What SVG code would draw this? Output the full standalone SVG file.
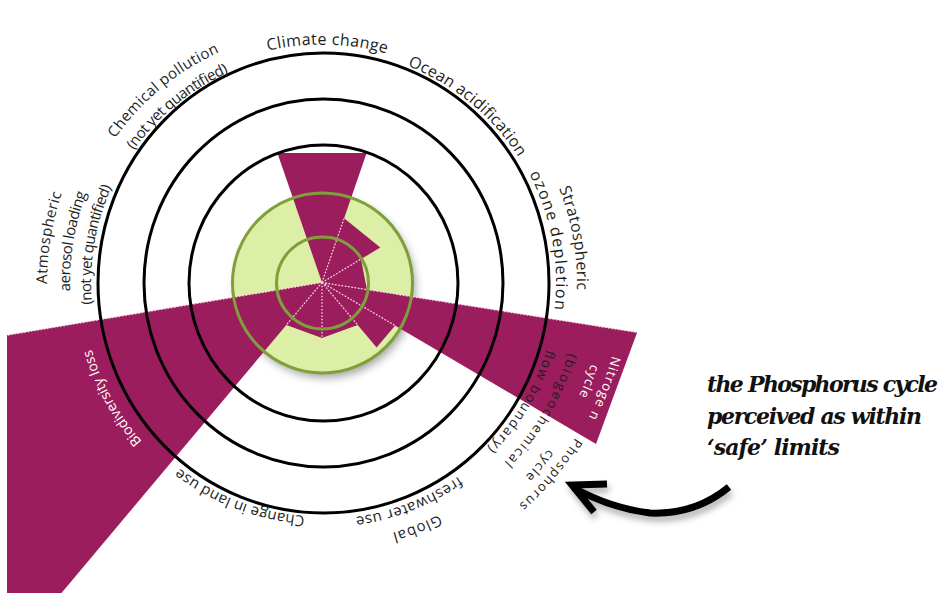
<svg xmlns="http://www.w3.org/2000/svg" width="947" height="593" viewBox="0 0 947 593">
<defs>
<style>
.wedge{fill:#9c1d5e}
.dot{stroke:#f6d8e8;stroke-width:1.3;stroke-dasharray:1.5 1.8;fill:none}
.ring{fill:none;stroke:#000;stroke-width:3}
.gring{fill:none;stroke:#7f9f3a;stroke-width:3}
.lbl{font-family:"Open Sans",Lato,sans-serif;fill:#1e1e1e}
.wl{font-family:"Open Sans",Lato,sans-serif;fill:#ffffff}
.note{font-family:"DejaVu Serif",serif;font-weight:bold;font-style:italic;font-size:22px;fill:#111}
.arrow{fill:none;stroke:#000;stroke-width:7}
</style>
<filter id="sh" x="-30%" y="-30%" width="160%" height="160%"><feDropShadow dx="3" dy="5" stdDeviation="4" flood-color="#000" flood-opacity="0.35"/></filter>
<filter id="sh2" x="-20%" y="-50%" width="140%" height="200%"><feDropShadow dx="2" dy="5" stdDeviation="3" flood-color="#000" flood-opacity="0.3"/></filter>
<path id="p1" d="M118.6 158.9 A238 238 0 0 1 530.7 168.2"/>
<path id="p2" d="M240.4 64.3 A233 233 0 0 1 551.8 320.9"/>
<path id="p3" d="M409.2 42.9 A255 255 0 0 1 485.9 477.8"/>
<path id="p4" d="M400.1 61.9 A234 234 0 0 1 474.0 460.4"/>
<path id="p5" d="M552.7 92.3 A299 299 0 0 1 371.3 577.4"/>
<path id="p6" d="M538.2 103.0 A281 281 0 0 1 369.3 559.5"/>
<path id="p7" d="M544.4 155.7 A256 256 0 0 1 320.7 538.5"/>
<path id="p8" d="M526.3 168.3 A234 234 0 0 1 318.7 516.5"/>
<path id="p9" d="M601.1 180.9 A297 297 0 0 1 270.4 575.0"/>
<path id="p10" d="M586.1 186.4 A281 281 0 0 1 273.2 559.2"/>
<path id="p11" d="M578.9 322.3 A260 260 0 0 1 159.1 485.1"/>
<path id="p12" d="M556.5 317.1 A237 237 0 0 1 174.8 468.2"/>
<path id="p13" d="M469.6 464.1 A234 234 0 0 1 90.9 319.5"/>
<path id="p14" d="M317.0 522.5 A240 240 0 0 1 116.7 158.2"/>
<path id="p15" d="M147.8 495.3 A275 275 0 0 1 224.8 25.3"/>
<path id="p16" d="M162.1 477.2 A252 252 0 0 1 233.3 46.6"/>
<path id="p17" d="M175.1 460.7 A231 231 0 0 1 241.1 66.1"/>
<path id="p18" d="M73.5 324.5 A252 252 0 0 1 410.0 46.3"/>
<path id="p19" d="M95.1 320.1 A230 230 0 0 1 402.9 67.2"/>
</defs>
<rect width="947" height="593" fill="#ffffff"/>

<g id="safe-zone">
<circle cx="322.5" cy="283" r="90" fill="#ddeea6" filter="url(#sh)"/>
</g>

<g id="wedges">
<g id="climate-change"><polygon class="wedge" points="322,282.5 277.4,153 366.6,153"/></g>
<g id="ocean-acidification"><polygon class="wedge" points="322,282.5 344.1,218.2 380.3,247.5"/></g>
<g id="ozone-depletion"><polygon class="wedge" points="322,282.5 361.0,259.1 366.9,289.6"/></g>
<g id="nitrogen-cycle"><polygon class="wedge" points="322,282.5 637.1,332.4 596.0,443.9"/></g>
<g id="phosphorus-cycle"><polygon class="wedge" points="322,282.5 395.2,325.6 376.6,347.6"/></g>
<g id="freshwater-use"><polygon class="wedge" points="322,282.5 357.7,325.0 322,338"/></g>
<g id="land-use"><polygon class="wedge" points="322,282.5 322,338 286.3,325.0"/></g>
<g id="biodiversity-loss"><polygon class="wedge" points="322,282.5 7,335.2 7,593 61.5,593"/></g>
</g>

<g id="dividers">
<path class="dot" d="M322 282.5 L344.1 218.2 M322 282.5 L361.0 259.1 M322 282.5 L366.9 289.6 M322 282.5 L395.2 325.6 M322 282.5 L357.7 325.0 M322 282.5 L322 338 M322 282.5 L286.3 325.0 M322 282.5 L7 335.2 M366.9 289.6 L637.1 332.4"/>
</g>

<g id="rings">
<circle class="gring" cx="322.5" cy="283" r="90"/>
<circle class="gring" cx="322.5" cy="283" r="46"/>
<ellipse class="ring" cx="323.5" cy="283" rx="134.5" ry="138"/>
<ellipse class="ring" cx="323.5" cy="283" rx="179.5" ry="184"/>
<ellipse class="ring" cx="323.5" cy="283" rx="225.5" ry="230"/>
</g>

<g id="labels">
<text class="lbl" font-size="16" text-anchor="middle"><textPath href="#p1" startOffset="50%" textLength="120">Climate change</textPath></text>
<text class="lbl" font-size="16" text-anchor="middle"><textPath href="#p2" startOffset="50%" textLength="146">Ocean acidification</textPath></text>
<text class="lbl" font-size="16" text-anchor="middle"><textPath href="#p3" startOffset="50%" textLength="104">Stratospheric</textPath></text>
<text class="lbl" font-size="16" text-anchor="middle"><textPath href="#p4" startOffset="50%" textLength="140">ozone depletion</textPath></text>
<text class="wl" font-size="13" text-anchor="middle"><textPath href="#p5" startOffset="50%" textLength="66">Nitroge n</textPath></text>
<text class="wl" font-size="13" text-anchor="middle"><textPath href="#p6" startOffset="50%" textLength="34">cycle</textPath></text>
<text class="lbl" font-size="13.5" text-anchor="middle"><textPath href="#p7" startOffset="50%" textLength="128">(biogeochemical</textPath></text>
<text class="lbl" font-size="13.5" text-anchor="middle"><textPath href="#p8" startOffset="50%" textLength="116">flow boundary)</textPath></text>
<text class="lbl" font-size="13" text-anchor="middle"><textPath href="#p9" startOffset="50%" textLength="88">Phosphorus</textPath></text>
<text class="lbl" font-size="13" text-anchor="middle"><textPath href="#p10" startOffset="50%" textLength="36">cycle</textPath></text>
<text class="lbl" font-size="15" text-anchor="middle"><textPath href="#p11" startOffset="50%" textLength="50">Global</textPath></text>
<text class="lbl" font-size="15" text-anchor="middle"><textPath href="#p12" startOffset="50%" textLength="112">freshwater use</textPath></text>
<text class="lbl" font-size="15" text-anchor="middle"><textPath href="#p13" startOffset="50%" textLength="136">Change in land use</textPath></text>
<text class="wl" font-size="14" text-anchor="middle"><textPath href="#p14" startOffset="50%" textLength="106">Biodiversity loss</textPath></text>
<text class="lbl" font-size="15" text-anchor="middle"><textPath href="#p15" startOffset="50%" textLength="92">Atmospheric</textPath></text>
<text class="lbl" font-size="15" text-anchor="middle"><textPath href="#p16" startOffset="50%" textLength="100">aerosol loading</textPath></text>
<text class="lbl" font-size="15" text-anchor="middle"><textPath href="#p17" startOffset="50%" textLength="120">(not yet quantified)</textPath></text>
<text class="lbl" font-size="15" text-anchor="middle"><textPath href="#p18" startOffset="50%" textLength="137">Chemical pollution</textPath></text>
<text class="lbl" font-size="15" text-anchor="middle"><textPath href="#p19" startOffset="50%" textLength="124">(not yet quantified)</textPath></text>
</g>

<g id="callout">
<text class="note" x="707" y="392" textLength="231">the Phosphorus cycle</text>
<text class="note" x="707" y="424" textLength="215">perceived as within</text>
<text class="note" x="707" y="455" textLength="133">‘safe’ limits</text>
</g>

<g id="connectors" filter="url(#sh2)">
<path class="arrow" d="M729 487 Q695 515 650 513 Q610 508 574 488"/>
<path class="arrow" d="M607 484 L572 485 L594 512"/>
</g>
</svg>
